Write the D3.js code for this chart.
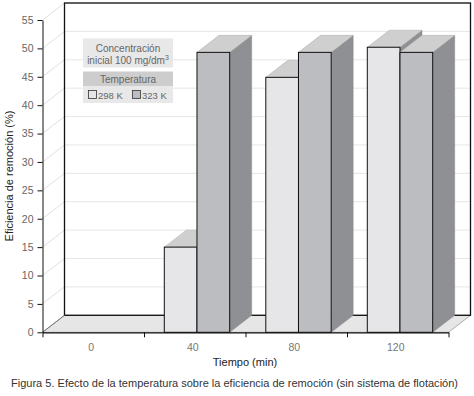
<!DOCTYPE html>
<html>
<head>
<meta charset="utf-8">
<script src="https://cdn.jsdelivr.net/npm/d3@7"></script>
<style>
  body { margin: 0; background: #fff; }
  text { font-family: "Liberation Sans", Arial, sans-serif; }
</style>
</head>
<body>
<div id="canvas"></div>
<script>
const categories = ["0", "40", "80", "120"];
const series = ["298 K", "323 K"];
const values298 = [0, 15, 44.9, 50.2];
const values323 = [0, 49.3, 49.3, 49.3];
const yTicks = [0, 5, 10, 15, 20, 25, 30, 35, 40, 45, 50, 55];

const width = 474;
const height = 396;
const plotLeft = 42.5, plotRight = 448.5, plotTop = 20, plotBottom = 332.3;
const dx = 22, dy = -17;

const fills = { "298 K": "#e6e6e8", "323 K": "#bcbdc0" };
const topFill = "#cfcfd0";
const sideFill = "#8f9093";

const svg = d3.select("#canvas").append("svg")
  .attr("width", width)
  .attr("height", height);

const y = d3.scaleLinear().domain([0, 55]).range([plotBottom, plotTop]);
const x0 = d3.scaleBand().domain(categories).range([plotLeft, plotRight]);
const bw = x0.bandwidth();
const x1 = d3.scaleBand().domain(series).range([bw * 0.2, bw * 0.2 + bw * 0.644]);

// floor
svg.append("polygon")
  .attr("points", [[plotLeft, plotBottom], [plotRight, plotBottom], [plotRight + dx, plotBottom + dy], [plotLeft + dx, plotBottom + dy]].join(" "))
  .attr("fill", "#e6e6e6")
  .attr("stroke", "#999")
  .attr("stroke-width", 0.8);

// grid on back wall and left wall
yTicks.filter(t => t > 0).forEach(t => {
  svg.append("line")
    .attr("x1", plotLeft + dx).attr("x2", plotRight + dx)
    .attr("y1", y(t) + dy).attr("y2", y(t) + dy)
    .attr("stroke", "#e6e6e6");
  svg.append("line")
    .attr("x1", plotLeft).attr("x2", plotLeft + dx)
    .attr("y1", y(t)).attr("y2", y(t) + dy)
    .attr("stroke", "#e0e0e0");
});

// back wall border
svg.append("rect")
  .attr("x", plotLeft + dx).attr("y", y(55) + dy)
  .attr("width", plotRight - plotLeft).attr("height", y(0) - y(55))
  .attr("fill", "none")
  .attr("stroke", "#111")
  .attr("stroke-width", 1.3);

// left floor edge
svg.append("line")
  .attr("x1", plotLeft).attr("y1", plotBottom)
  .attr("x2", plotLeft + dx).attr("y2", plotBottom + dy)
  .attr("stroke", "#777");

// legend
const lg = svg.append("g").attr("transform", "translate(83,38.5)");
lg.append("rect").attr("width", 90).attr("height", 29).attr("fill", "#e8e8e8");
lg.append("rect").attr("y", 33).attr("width", 90).attr("height", 14.5).attr("fill", "#cdcdcd");
lg.append("rect").attr("y", 47.5).attr("width", 90).attr("height", 17).attr("fill", "#e8e8e8");
lg.append("text").attr("x", 45).attr("y", 13.5).attr("text-anchor", "middle")
  .attr("font-size", 10).attr("fill", "#666").text("Concentración");
const t2 = lg.append("text").attr("x", 45).attr("y", 25.5).attr("text-anchor", "middle")
  .attr("font-size", 10).attr("fill", "#666");
t2.append("tspan").text("inicial 100 mg/dm");
t2.append("tspan").attr("font-size", 7).attr("dy", -4).text("3");
lg.append("text").attr("x", 45).attr("y", 44).attr("text-anchor", "middle")
  .attr("font-size", 10).attr("fill", "#666").text("Temperatura");
series.forEach((s, i) => {
  const gx = 5.5 + i * 44;
  lg.append("rect").attr("x", gx).attr("y", 52).attr("width", 8).attr("height", 8)
    .attr("fill", fills[s]).attr("stroke", "#333").attr("stroke-width", 0.8);
  lg.append("text").attr("x", gx + 9.5).attr("y", 60).attr("font-size", 9.5)
    .attr("fill", "#666").text(s);
});

// bars
const data = categories.map((c, i) => ({ cat: c, vals: [values298[i], values323[i]] }));
data.forEach(d => {
  d.vals.forEach((v, j) => {
    if (v <= 0) return;
    const s = series[j];
    const bx = x0(d.cat) + x1(s);
    const w = x1.bandwidth();
    const yt = y(v), yb = y(0);
    svg.append("polygon")
      .attr("points", [[bx + w, yt], [bx + w + dx, yt + dy], [bx + w + dx, yb + dy], [bx + w, yb]].join(" "))
      .attr("fill", sideFill).attr("stroke", "#888").attr("stroke-width", 0.5);
    svg.append("polygon")
      .attr("points", [[bx, yt], [bx + dx, yt + dy], [bx + w + dx, yt + dy], [bx + w, yt]].join(" "))
      .attr("fill", topFill).attr("stroke", "#aaa").attr("stroke-width", 0.5);
    svg.append("rect")
      .attr("x", bx).attr("y", yt)
      .attr("width", w).attr("height", yb - yt)
      .attr("fill", fills[s])
      .attr("stroke", "#111").attr("stroke-width", 1);
  });
});

// y axis
const yAxis = svg.append("g")
  .attr("transform", `translate(${plotLeft},0)`)
  .call(d3.axisLeft(y).tickValues(yTicks).tickSize(5).tickSizeOuter(0).tickPadding(4));
yAxis.selectAll("text").attr("font-size", 10.5).attr("fill", "#666").attr("font-family", "Liberation Sans, Arial, sans-serif");
yAxis.selectAll("line").attr("stroke", "#111");
yAxis.select(".domain").attr("stroke", "#111");

// x axis ticks at band edges
const xb = d3.scaleLinear().domain([0, categories.length]).range([plotLeft, plotRight]);
const xAxis = svg.append("g")
  .attr("transform", `translate(0,${plotBottom})`)
  .call(d3.axisBottom(xb).tickValues(d3.range(categories.length + 1)).tickFormat("").tickSize(5).tickSizeOuter(0));
xAxis.selectAll("line").attr("stroke", "#111");
xAxis.select(".domain").attr("stroke", "#111").attr("stroke-width", 1.2);

const xLab = svg.append("g")
  .attr("transform", `translate(-2,${plotBottom})`)
  .call(d3.axisBottom(x0).tickSize(0).tickPadding(11.5));
xLab.select(".domain").remove();
xLab.selectAll("text").attr("font-size", 10.5).attr("fill", "#777").attr("font-family", "Liberation Sans, Arial, sans-serif");

// titles
svg.append("text")
  .attr("transform", "translate(13,176) rotate(-90)")
  .attr("text-anchor", "middle")
  .attr("font-size", 11).attr("fill", "#222")
  .text("Eficiencia de remoción (%)");

svg.append("text")
  .attr("x", 245).attr("y", 366)
  .attr("text-anchor", "middle")
  .attr("font-size", 11).attr("fill", "#222")
  .text("Tiempo (min)");

svg.append("text")
  .attr("x", 11).attr("y", 387)
  .attr("font-size", 10.5).attr("fill", "#333")
  .attr("textLength", 447).attr("lengthAdjust", "spacingAndGlyphs")
  .text("Figura 5. Efecto de la temperatura sobre la eficiencia de remoción (sin sistema de flotación)");
</script>
</body>
</html>
